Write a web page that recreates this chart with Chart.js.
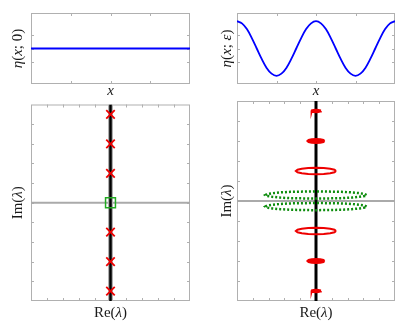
<!DOCTYPE html>
<html>
<head>
<meta charset="utf-8">
<script src="https://cdn.jsdelivr.net/npm/chart.js@4.4.1/dist/chart.umd.min.js"></script>
<style>
  html, body { margin: 0; padding: 0; background: #fff; }
  body { width: 408px; height: 327px; position: relative; overflow: hidden; }
  canvas { position: absolute; }
</style>
</head>
<body>
<canvas id="tl" width="204" height="100" style="left:0;top:0"></canvas>
<canvas id="tr" width="204" height="100" style="left:204px;top:0"></canvas>
<canvas id="bl" width="204" height="231" style="left:0;top:96px"></canvas>
<canvas id="br" width="204" height="231" style="left:204px;top:96px"></canvas>
<script>
// top panels: surface profiles
var flatX = [0, 4];
var flatY = [0, 0];
var waveX = [0, 0.125, 0.25, 0.375, 0.5, 0.625, 0.75, 0.875, 1, 1.125, 1.25, 1.375, 1.5, 1.625, 1.75, 1.875, 2,
             2.125, 2.25, 2.375, 2.5, 2.625, 2.75, 2.875, 3, 3.125, 3.25, 3.375, 3.5, 3.625, 3.75, 3.875, 4];
var waveY = [1, 0.92, 0.71, 0.38, 0, -0.38, -0.71, -0.92, -1, -0.92, -0.71, -0.38, 0, 0.38, 0.71, 0.92, 1,
             0.92, 0.71, 0.38, 0, -0.38, -0.71, -0.92, -1, -0.92, -0.71, -0.38, 0, 0.38, 0.71, 0.92, 1];

// bottom-left: spectrum of the flat state
var eigRe = [0, 0, 0, 0, 0, 0];
var eigIm = [4.5, 3, 1.5, -1.5, -3, -4.5];
var originRe = [0];
var originIm = [0];

// imaginary axis / real axis segments
var axisV = [-5, 5];
var axisH = [-5, 5];

// bottom-right: spectrum of the periodic state (closed loops)
var ringRe = [1.27, 1.17, 0.90, 0.49, 0, -0.49, -0.90, -1.17, -1.27, -1.17, -0.90, -0.49, 0, 0.49, 0.90, 1.17, 1.27];
var ringImUp = [1.50, 1.56, 1.61, 1.65, 1.66, 1.65, 1.61, 1.56, 1.50, 1.44, 1.39, 1.35, 1.34, 1.35, 1.39, 1.44, 1.50];
var ringImDn = [-1.50, -1.44, -1.39, -1.35, -1.34, -1.35, -1.39, -1.44, -1.50, -1.56, -1.61, -1.65, -1.66, -1.65, -1.61, -1.56, -1.50];

var blob3Re = [0.54, 0.47, 0.27, 0, -0.27, -0.47, -0.54, -0.47, -0.27, 0, 0.27, 0.47, 0.54];
var blob3ImUp = [3, 3.05, 3.09, 3.10, 3.09, 3.05, 3, 2.95, 2.91, 2.90, 2.91, 2.95, 3];
var blob3ImDn = [-3, -2.95, -2.91, -2.90, -2.91, -2.95, -3, -3.05, -3.09, -3.10, -3.09, -3.05, -3];

var blob45Re = [0.30, 0.26, 0.15, 0, -0.15, -0.26, -0.30, -0.26, -0.15, 0, 0.15, 0.26, 0.30];
var blob45ImUp = [4.5, 4.53, 4.55, 4.56, 4.55, 4.53, 4.5, 4.47, 4.45, 4.44, 4.45, 4.47, 4.5];
var blob45ImDn = [-4.5, -4.47, -4.45, -4.44, -4.45, -4.47, -4.5, -4.53, -4.55, -4.56, -4.55, -4.53, -4.5];

var greenRe = [3.2, 3.09, 2.77, 2.26, 1.6, 0.83, 0, -0.83, -1.6, -2.26, -2.77, -3.09, -3.2,
               -3.09, -2.77, -2.26, -1.6, -0.83, 0, 0.83, 1.6, 2.26, 2.77, 3.09, 3.2];
var greenImUp = [0.30, 0.35, 0.39, 0.43, 0.46, 0.47, 0.48, 0.47, 0.46, 0.43, 0.39, 0.35, 0.30,
                 0.25, 0.21, 0.17, 0.14, 0.13, 0.12, 0.13, 0.14, 0.17, 0.21, 0.25, 0.30];
var greenImDn = [-0.28, -0.23, -0.19, -0.15, -0.12, -0.11, -0.10, -0.11, -0.12, -0.15, -0.19, -0.23, -0.28,
                 -0.33, -0.37, -0.41, -0.44, -0.45, -0.46, -0.45, -0.44, -0.41, -0.37, -0.33, -0.28];

function pts(xs, ys) {
  return xs.map(function (x, i) { return { x: x, y: ys[i] }; });
}

var RED = '#ee0000';
var GREEN = '#0c8c0c';
var FONT = '15px "Liberation Serif", "DejaVu Serif", serif';
var FONT_I = 'italic 15px "Liberation Serif", "DejaVu Serif", serif';

// frame + inward ticks on all four sides
const frameTicks = {
  id: 'frameTicks',
  beforeDatasetsDraw(chart) {
    const { ctx, chartArea: a } = chart;
    const x = chart.scales.x, y = chart.scales.y;
    ctx.save();
    ctx.strokeStyle = '#b0b0b0';
    ctx.lineWidth = 1;
    ctx.strokeRect(a.left + 0.5, a.top + 0.5, a.right - a.left - 1, a.bottom - a.top - 1);
    ctx.beginPath();
    x.ticks.forEach(function (t) {
      const p = Math.round(x.getPixelForValue(t.value)) + 0.5;
      if (p < a.left + 3 || p > a.right - 3) return;
      ctx.moveTo(p, a.bottom); ctx.lineTo(p, a.bottom - 3);
      ctx.moveTo(p, a.top); ctx.lineTo(p, a.top + 3);
    });
    y.ticks.forEach(function (t) {
      const p = Math.round(y.getPixelForValue(t.value)) + 0.5;
      if (p < a.top + 3 || p > a.bottom - 3) return;
      ctx.moveTo(a.left, p); ctx.lineTo(a.left + 3, p);
      ctx.moveTo(a.right, p); ctx.lineTo(a.right - 3, p);
    });
    ctx.stroke();
    ctx.restore();
  }
};

// axis titles with mixed italic/roman pieces
function drawPieces(ctx, pieces, cx, cy) {
  var w = 0;
  pieces.forEach(function (p) { ctx.font = p[1] ? FONT_I : FONT; w += ctx.measureText(p[0]).width; });
  var x = cx - w / 2;
  pieces.forEach(function (p) {
    ctx.font = p[1] ? FONT_I : FONT;
    ctx.fillText(p[0], x, cy);
    x += ctx.measureText(p[0]).width;
  });
}
const richTitles = {
  id: 'richTitles',
  afterDraw(chart, args, opts) {
    const { ctx, chartArea: a } = chart;
    ctx.save();
    ctx.fillStyle = '#1a1a1a';
    ctx.textBaseline = 'alphabetic';
    drawPieces(ctx, opts.xText, (a.left + a.right) / 2, a.bottom + opts.xGap);
    ctx.translate(a.left - opts.yGap, (a.top + a.bottom) / 2);
    ctx.rotate(-Math.PI / 2);
    drawPieces(ctx, opts.yText, 0, 0);
    ctx.restore();
  }
};

function baseOptions(pad, xr, yr, titles) {
  return {
    responsive: false,
    devicePixelRatio: 1,
    animation: false,
    layout: { padding: pad },
    plugins: { legend: { display: false }, tooltip: { enabled: false }, richTitles: titles },
    scales: {
      x: { type: 'linear', display: false, min: xr[0], max: xr[1], ticks: { stepSize: xr[2] } },
      y: { type: 'linear', display: false, min: yr[0], max: yr[1], ticks: { stepSize: yr[2] } }
    }
  };
}

function line(data, color, width, extra) {
  var d = { data: data, showLine: true, pointRadius: 0, borderColor: color, borderWidth: width, tension: 0 };
  for (var k in extra) d[k] = extra[k];
  return d;
}

// top left
new Chart(document.getElementById('tl'), {
  type: 'scatter',
  data: { datasets: [line(pts(flatX, flatY), '#0000ff', 2)] },
  options: baseOptions({ left: 31, right: 14, top: 13, bottom: 16 }, [0, 4, 1], [-1.3, 1.3, 0.5],
    { xText: [['x', true]], xGap: 11, yText: [['η', true], ['(', false], ['x', true], ['; 0)', false]], yGap: 9 }),
  plugins: [frameTicks, richTitles]
});

// top right
new Chart(document.getElementById('tr'), {
  type: 'scatter',
  data: { datasets: [line(pts(waveX, waveY), '#0000ff', 1.8, { tension: 0.35 })] },
  options: baseOptions({ left: 33, right: 13, top: 13, bottom: 16 }, [0, 4, 1], [-1.3, 1.3, 0.5],
    { xText: [['x', true]], xGap: 11, yText: [['η', true], ['(', false], ['x', true], ['; ', false], ['ε', true], [')', false]], yGap: 6 }),
  plugins: [frameTicks, richTitles]
});

// bottom left
new Chart(document.getElementById('bl'), {
  type: 'scatter',
  data: { datasets: [
    { data: pts(originRe, originIm), pointStyle: 'rect', pointRadius: 7, borderColor: '#22aa22', borderWidth: 1.5, backgroundColor: 'rgba(0,0,0,0)' },
    { data: pts(eigRe, eigIm), pointStyle: 'crossRot', pointRadius: 6, borderColor: RED, borderWidth: 1.8 },
    line(pts([0, 0], axisV), '#000000', 2.5),
    line(pts([0, 0], axisV), '#b0b0b0', 5),
    line(pts(axisH, [0, 0]), '#aaaaaa', 2)
  ] },
  options: baseOptions({ left: 31, right: 14, top: 5, bottom: 26 }, [-5, 5, 1], [-5, 5, 1],
    { xText: [['Re(', false], ['λ', true], [')', false]], xGap: 16, yText: [['Im(', false], ['λ', true], [')', false]], yGap: 9 }),
  plugins: [frameTicks, richTitles]
});

// bottom right
new Chart(document.getElementById('br'), {
  type: 'scatter',
  data: { datasets: [
    line(pts(ringRe, ringImUp), RED, 2),
    line(pts(ringRe, ringImDn), RED, 2),
    line(pts(blob3Re, blob3ImUp), RED, 2, { fill: 'shape', backgroundColor: RED }),
    line(pts(blob3Re, blob3ImDn), RED, 2, { fill: 'shape', backgroundColor: RED }),
    line(pts(blob45Re, blob45ImUp), RED, 2, { fill: 'shape', backgroundColor: RED }),
    line(pts(blob45Re, blob45ImDn), RED, 2, { fill: 'shape', backgroundColor: RED }),
    line(pts(greenRe, greenImUp), GREEN, 2.5, { borderDash: [2, 2] }),
    line(pts(greenRe, greenImDn), GREEN, 2.5, { borderDash: [2, 2] }),
    line(pts([0, 0], axisV), '#000000', 3),
    line(pts(axisH, [0, 0]), '#aaaaaa', 2)
  ] },
  options: baseOptions({ left: 33, right: 13, top: 5, bottom: 26 }, [-5, 5, 1], [-5, 5, 1],
    { xText: [['Re(', false], ['λ', true], [')', false]], xGap: 16, yText: [['Im(', false], ['λ', true], [')', false]], yGap: 6 }),
  plugins: [frameTicks, richTitles]
});
</script>
</body>
</html>
